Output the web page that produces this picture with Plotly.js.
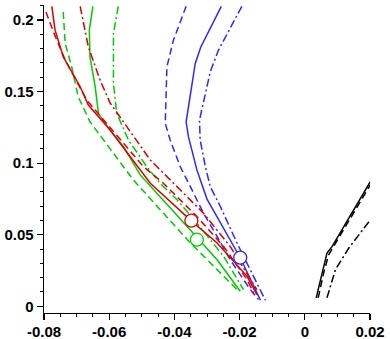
<!DOCTYPE html>
<html>
<head>
<meta charset="utf-8">
<script src="https://cdn.plot.ly/plotly-3.0.1.min.js"></script>
<style>
  html, body { margin: 0; padding: 0; background: #fff; }
  #chart { width: 390px; height: 339px; }
</style>
</head>
<body>
<div id="chart"></div>
<script>
// values
const blueSolidX = [-0.0256, -0.0319, -0.0336, -0.0364, -0.0357, -0.0331, -0.0300, -0.0198, -0.0136];
const blueSolidY = [0.2096, 0.1812, 0.1697, 0.1289, 0.1185, 0.0953, 0.0749, 0.0339, 0.0042];
const blueDashX = [-0.0364, -0.0403, -0.0423, -0.0425, -0.0428, -0.0413, -0.0382, -0.0351, -0.0311, -0.0269, -0.0229, -0.0167, -0.0142];
const blueDashY = [0.2096, 0.1859, 0.1673, 0.1510, 0.1278, 0.1162, 0.0976, 0.0836, 0.0651, 0.0488, 0.0325, 0.0116, 0.0047];
const blueDotX = [-0.0193, -0.0265, -0.0290, -0.0305, -0.0323, -0.0321, -0.0305, -0.0290, -0.0259, -0.0208, -0.0121];
const blueDotY = [0.2096, 0.1789, 0.1638, 0.1487, 0.1301, 0.1162, 0.0976, 0.0836, 0.0697, 0.0442, 0.0042];

const blackSolidX = [0.0035, 0.0048, 0.0068, 0.0084, 0.0201];
const blackSolidY = [0.0059, 0.0186, 0.0372, 0.0418, 0.0871];
const blackDashX = [0.0041, 0.0058, 0.0073, 0.0201];
const blackDashY = [0.0059, 0.0233, 0.0360, 0.0848];
const blackDotX = [0.0068, 0.0094, 0.0135, 0.0201];
const blackDotY = [0.0059, 0.0256, 0.0407, 0.0604];

const redSolidX = [-0.0776, -0.0766, -0.0741, -0.0689, -0.0664, -0.0597, -0.0536, -0.0474, -0.0348, -0.0269, -0.0177, -0.0147];
const redSolidY = [0.2096, 0.1929, 0.1743, 0.1534, 0.1406, 0.1232, 0.1046, 0.0860, 0.0597, 0.0442, 0.0209, 0.0082];
const redDashX = [-0.0794, -0.0771, -0.0735, -0.0695, -0.0669, -0.0556, -0.0495, -0.0434, -0.0331, -0.0249, -0.0177, -0.0157];
const redDashY = [0.2056, 0.1917, 0.1720, 0.1557, 0.1441, 0.1139, 0.0976, 0.0860, 0.0627, 0.0418, 0.0186, 0.0093];
const redDotX = [-0.0689, -0.0679, -0.0664, -0.0628, -0.0597, -0.0546, -0.0474, -0.0423, -0.0311, -0.0229, -0.0147];
const redDotY = [0.2096, 0.1975, 0.1812, 0.1580, 0.1420, 0.1255, 0.1022, 0.0906, 0.0651, 0.0418, 0.0116];

const greenSolidX = [-0.0650, -0.0661, -0.0659, -0.0643, -0.0633, -0.0602, -0.0556, -0.0505, -0.0413, -0.0331, -0.0269, -0.0198];
const greenSolidY = [0.2096, 0.1929, 0.1743, 0.1534, 0.1348, 0.1243, 0.1115, 0.0918, 0.0688, 0.0477, 0.0325, 0.0105];
const greenDashX = [-0.0741, -0.0735, -0.0715, -0.0695, -0.0659, -0.0618, -0.0572, -0.0526, -0.0434, -0.0351, -0.0269, -0.0208];
const greenDashY = [0.2056, 0.1836, 0.1673, 0.1464, 0.1289, 0.1162, 0.1022, 0.0883, 0.0651, 0.0442, 0.0256, 0.0116];
const greenDotX = [-0.0572, -0.0587, -0.0587, -0.0577, -0.0541, -0.0485, -0.0444, -0.0392, -0.0331, -0.0249, -0.0188];
const greenDotY = [0.2096, 0.1906, 0.1557, 0.1348, 0.1162, 0.0976, 0.0860, 0.0744, 0.0581, 0.0349, 0.0116];

// open circles
const pointX = [-0.0348, -0.0331, -0.0198];
const pointY = [0.0598, 0.0465, 0.0340];

const xTicks = [-0.08, -0.06, -0.04, -0.02, 0, 0.02];
const xTickText = ['-0.08', '-0.06', '-0.04', '-0.02', '0', '0.02'];
const yTicks = [0, 0.05, 0.1, 0.15, 0.2];
const yTickText = ['0', '0.05', '0.1', '0.15', '0.2'];

const RED = '#dd0000';
const GREEN = '#00cc00';
const BLUE = '#2b2bff';
const BLACK = '#000000';

const DASH = '7px,4px';
const DASHDOT = '8px,3px,2px,3px';

function line(x, y, color, dash) {
  return {
    x: x, y: y,
    type: 'scatter',
    mode: 'lines',
    line: { color: color, width: 1.5, dash: dash },
    hoverinfo: 'skip'
  };
}

const data = [
  line(blueSolidX, blueSolidY, BLUE, 'solid'),
  line(blueDashX, blueDashY, BLUE, DASH),
  line(blueDotX, blueDotY, BLUE, DASHDOT),
  line(blackSolidX, blackSolidY, BLACK, 'solid'),
  line(blackDashX, blackDashY, BLACK, DASH),
  line(blackDotX, blackDotY, BLACK, DASHDOT),
  line(greenSolidX, greenSolidY, GREEN, 'solid'),
  line(greenDashX, greenDashY, GREEN, DASH),
  line(greenDotX, greenDotY, GREEN, DASHDOT),
  line(redSolidX, redSolidY, RED, 'solid'),
  line(redDashX, redDashY, RED, DASH),
  line(redDotX, redDotY, RED, DASHDOT),
  {
    x: pointX, y: pointY,
    type: 'scatter',
    mode: 'markers',
    marker: {
      symbol: 'circle',
      size: 13,
      color: '#ffffff',
      line: { color: [RED, GREEN, BLUE], width: 1.3 }
    },
    hoverinfo: 'skip'
  }
];

const tickFont = { family: 'Liberation Sans, Arial, sans-serif', size: 15, weight: 'bold', color: '#000' };

const layout = {
  width: 390,
  height: 339,
  margin: { l: 44, r: 20, t: 5, b: 26 },
  paper_bgcolor: '#fff',
  plot_bgcolor: '#fff',
  showlegend: false,
  xaxis: {
    range: [-0.08, 0.02],
    tickmode: 'array',
    tickvals: xTicks,
    ticktext: xTickText,
    ticks: 'outside',
    ticklen: 6,
    tickwidth: 1.3,
    tickcolor: '#000',
    ticklabelstandoff: -1,
    minor: { dtick: 0.005, ticks: 'outside', ticklen: 3, tickwidth: 1, tickcolor: '#000', showgrid: false },
    showline: true,
    linecolor: '#000',
    linewidth: 1.3,
    showgrid: false,
    zeroline: false,
    tickfont: tickFont
  },
  yaxis: {
    range: [-0.0047, 0.2105],
    tickmode: 'array',
    tickvals: yTicks,
    ticktext: yTickText,
    ticks: 'outside',
    ticklen: 6,
    tickwidth: 1.3,
    tickcolor: '#000',
    minor: { dtick: 0.01, ticks: 'outside', ticklen: 3, tickwidth: 1, tickcolor: '#000', showgrid: false },
    showline: true,
    linecolor: '#000',
    linewidth: 1.3,
    showgrid: false,
    zeroline: false,
    tickfont: tickFont
  }
};

Plotly.newPlot('chart', data, layout, { staticPlot: true, displayModeBar: false });
</script>
</body>
</html>
